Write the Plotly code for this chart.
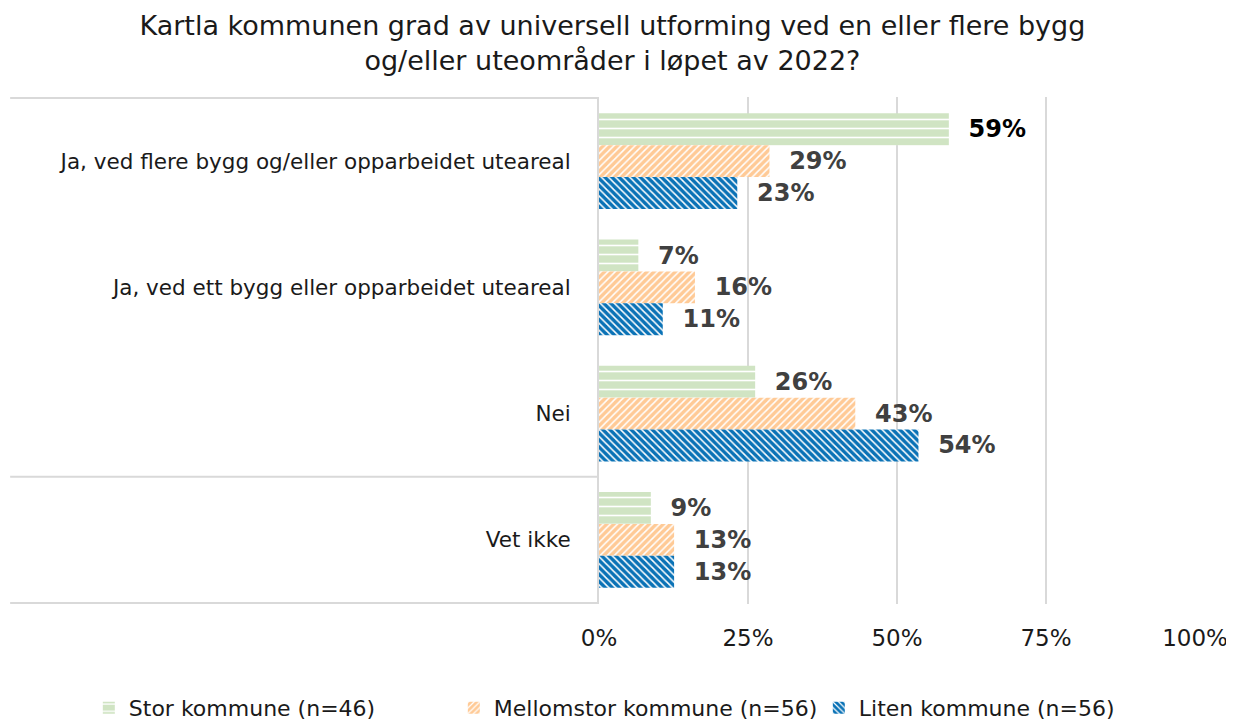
import plotly.graph_objects as go

# Data
categories = [
    "Ja, ved flere bygg og/eller opparbeidet uteareal",
    "Ja, ved ett bygg eller opparbeidet uteareal",
    "Nei",
    "Vet ikke",
]
series_names = ["Stor kommune (n=46)", "Mellomstor kommune (n=56)", "Liten kommune (n=56)"]
stor = [58.7, 6.6, 26.2, 8.7]
mellomstor = [28.6, 16.1, 43.0, 12.6]
liten = [23.2, 10.7, 53.6, 12.6]
x_ticks = [0, 25, 50, 75, 100]
x_ticklabels = ["0%", "25%", "50%", "75%", "100%"]

colors = ["#d0e4c3", "#ffca96", "#0a72b6"]
patterns = [
    dict(shape="-", size=9, solidity=0.18),
    dict(shape="/", size=5, solidity=0.3),
    dict(shape="\\", size=5, solidity=0.3),
]
label_colors = [["#000000", "#404040", "#404040", "#404040"], "#404040", "#404040"]

FONT = "Verdana, DejaVu Sans, sans-serif"
GRID = "#d9d9d9"

fig = go.Figure()
for name, vals, col, pat, lc in zip(series_names, [stor, mellomstor, liten], colors, patterns, label_colors):
    fig.add_trace(go.Bar(
        y=categories,
        x=vals,
        name=name,
        orientation="h",
        marker=dict(
            color=col,
            line=dict(width=0),
            pattern=dict(fillmode="overlay", fgcolor="white", fgopacity=1, **pat),
        ),
        texttemplate="\u00a0\u00a0%{x:.0f}%",
        textposition="outside",
        textfont=dict(family=FONT, size=24, color=lc, weight="bold"),
        cliponaxis=False,
    ))

# separator lines on the category side
shapes = []
for yv in [-0.5, 2.5, 3.5]:
    shapes.append(dict(type="line", xref="paper", yref="y", x0=-0.988, x1=0, y0=yv, y1=yv,
                       line=dict(color=GRID, width=2), layer="below"))

# the page puts the figure 8px in from the top-left corner
fig.update_layout(
    width=1226,
    height=714,
    paper_bgcolor="white",
    plot_bgcolor="white",
    font=dict(family=FONT, color="#1a1a1a"),
    title=dict(
        text="Kartla kommunen grad av universell utforming ved en eller flere bygg<br>og/eller uteområder i løpet av 2022?",
        x=0.493, xanchor="center", xref="container",
        y=0.962, yanchor="middle", yref="container",
        font=dict(family=FONT, size=27, color="#1a1a1a"),
        automargin=False,
    ),
    barmode="group",
    bargap=0.243,
    bargroupgap=0,
    margin=dict(l=591, r=39, t=89, b=118, autoexpand=False),
    xaxis=dict(
        range=[0, 100],
        tickvals=x_ticks,
        ticktext=x_ticklabels,
        showgrid=True,
        gridcolor=GRID,
        gridwidth=2,
        zeroline=False,
        showline=False,
        tickfont=dict(family=FONT, size=23, color="#1a1a1a"),
        ticklabelstandoff=18,
        automargin=False,
    ),
    yaxis=dict(
        autorange="reversed",
        showline=True,
        linecolor=GRID,
        linewidth=2,
        showgrid=False,
        ticks="",
        tickfont=dict(family=FONT, size=21.5, color="#1a1a1a"),
        ticklabelstandoff=22,
        automargin=False,
    ),
    legend=dict(
        orientation="h",
        xref="paper", x=-0.856, xanchor="left",
        yref="paper", y=-0.205, yanchor="middle",
        font=dict(family=FONT, size=22, color="#1a1a1a"),
        entrywidth=320,
        itemwidth=30,
    ),
    shapes=shapes,
)

fig.write_html("out.html")
